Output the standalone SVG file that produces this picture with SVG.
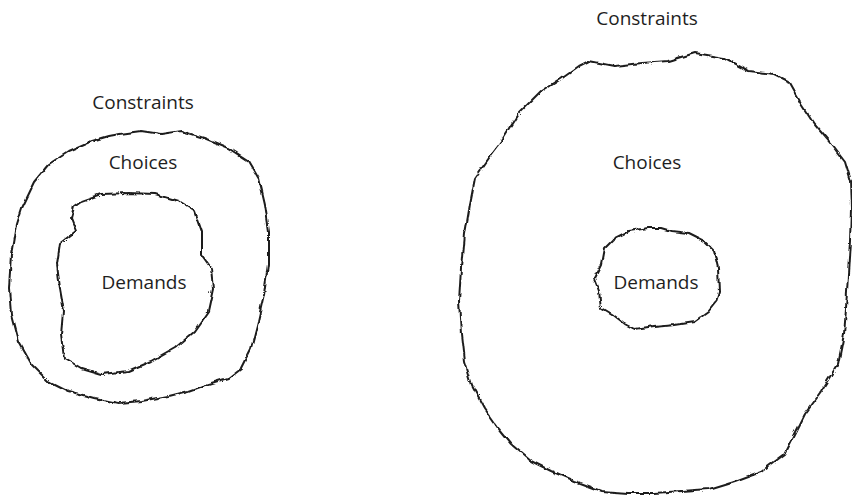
<svg xmlns="http://www.w3.org/2000/svg" width="852" height="496" viewBox="0 0 852 496">
  <style>
    .ring { fill: none; stroke: #1e1e1e; stroke-width: 2; stroke-linejoin: round; stroke-linecap: round; filter: url(#wobble); }
    .lbl { font-family: "Open Sans", "Liberation Sans", sans-serif; font-size: 19px; fill: #1e1e1e; text-anchor: middle; }
  </style>
  <defs>
    <filter id="wobble" x="-5%" y="-5%" width="110%" height="110%">
      <feTurbulence type="turbulence" baseFrequency="0.07" numOctaves="1" seed="7" result="n"/>
      <feDisplacementMap in="SourceGraphic" in2="n" scale="4" xChannelSelector="R" yChannelSelector="G"/>
    </filter>
  </defs>
  <rect width="852" height="496" fill="#ffffff"/>

  <g id="left-constraints">
    <polygon class="ring" points="118,133 140,130 160,133 180,130 203,137 227,147 247,160 257,177 263,203 267,230 267,263 263,293 257,320 250,347 240,367 227,377 207,383 187,390 167,395 140,400 117,402 93,397 67,390 47,380 30,363 17,340 10,313 8,287 10,253 15,223 20,207 33,180 47,163 67,150 90,140 107,135"/>
    <text class="lbl" x="143" y="109">Constraints</text>
  </g>
  <g id="left-choices">
    <text class="lbl" x="143" y="169">Choices</text>
  </g>
  <g id="left-demands">
    <polygon class="ring" points="80,200 100,193 127,192 153,193 177,200 193,210 200,230 200,253 210,267 212,287 207,310 193,330 173,347 150,360 127,370 100,373 80,367 63,357 60,333 62,310 58,287 55,263 58,243 75,230 70,217 73,205"/>
    <text class="lbl" x="144" y="289">Demands</text>
  </g>

  <g id="right-constraints">
    <polygon class="ring" points="587,60 613,65 640,62 667,60 693,52 723,57 747,70 773,73 787,80 800,103 813,123 830,143 843,160 849,180 850,207 849,240 847,273 845,307 843,333 837,363 820,390 803,413 793,433 783,453 760,470 733,480 707,488 680,490 653,492 627,492 600,490 573,480 550,470 530,460 510,443 497,427 483,407 470,383 463,360 460,333 458,300 460,267 463,233 468,203 473,177 487,157 500,140 517,113 540,90 560,77 577,65"/>
    <text class="lbl" x="647" y="25">Constraints</text>
  </g>
  <g id="right-choices">
    <text class="lbl" x="647" y="169">Choices</text>
  </g>
  <g id="right-demands">
    <polygon class="ring" points="627,230 647,227 660,227 670,230 687,232 703,240 713,250 717,267 718,290 715,300 707,310 693,320 673,323 653,325 633,328 623,323 610,313 600,307 598,290 593,277 600,263 603,247 613,237"/>
    <text class="lbl" x="656" y="289">Demands</text>
  </g>
</svg>
